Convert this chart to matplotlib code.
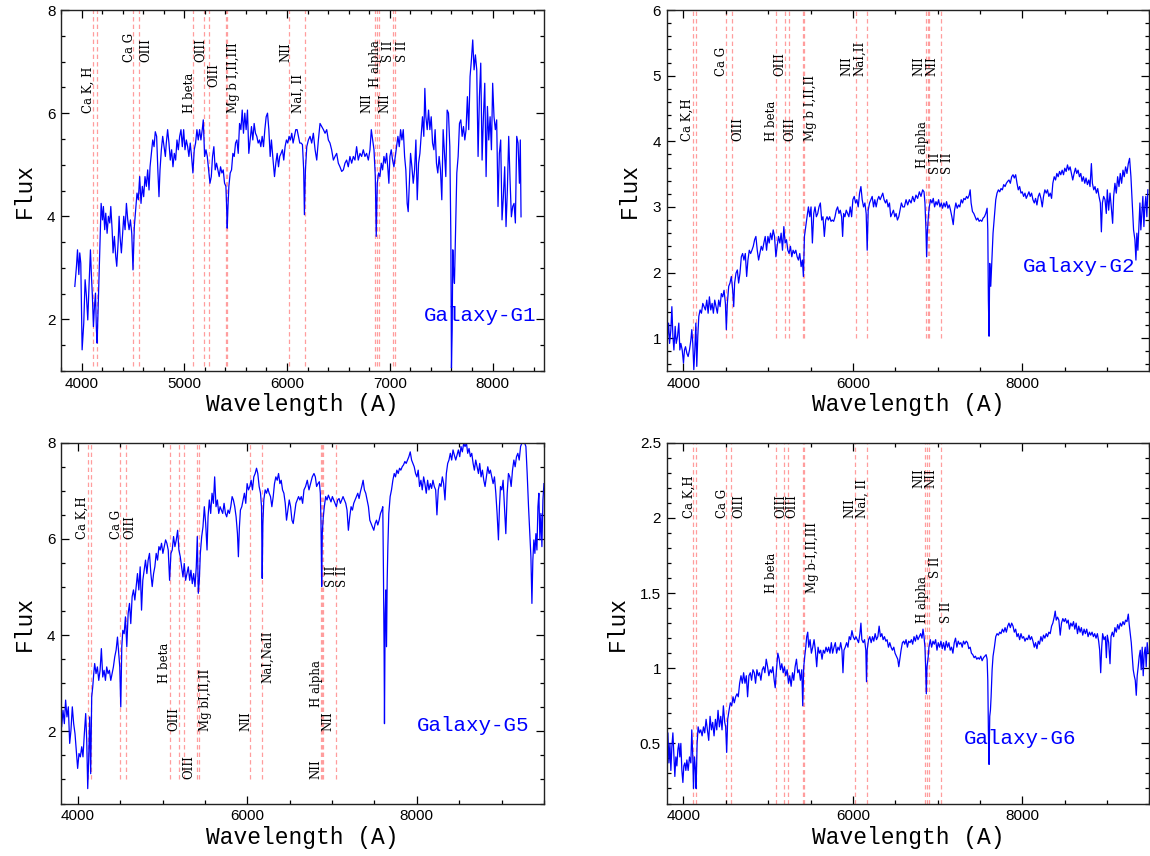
import numpy as np
import matplotlib
matplotlib.use("Agg")
import matplotlib.pyplot as plt
from matplotlib.ticker import MultipleLocator, FuncFormatter

plt.rcParams["font.family"] = ["Liberation Sans", "DejaVu Sans"]
MONO = ["Liberation Mono", "DejaVu Sans Mono"]
LABEL_FONT = ["DejaVu Serif"]

# spectra: (wavelength [A], flux)
G1_SPEC = [
    (3935, 2.64), (3951, 3.03), (3961, 3.35), (3974, 2.87), (3983, 3.29), (3993, 3.09), (4006, 1.41), (4022, 1.93),
    (4035, 2.77), (4048, 2.45), (4061, 1.99), (4074, 2.70), (4087, 3.35), (4097, 2.83), (4106, 2.45), (4116, 1.86),
    (4126, 2.25), (4136, 2.51), (4145, 1.80), (4152, 1.54), (4165, 2.45), (4178, 3.41), (4191, 4.25), (4204, 3.93),
    (4213, 4.19), (4226, 3.74), (4236, 4.06), (4249, 3.67), (4262, 4.00), (4275, 3.87), (4285, 4.19), (4298, 3.74),
    (4307, 3.29), (4320, 3.61), (4333, 3.22), (4343, 3.03), (4356, 3.48), (4366, 4.00), (4375, 3.61), (4388, 3.29),
    (4398, 3.61), (4411, 4.00), (4424, 3.74), (4437, 4.25), (4450, 3.93), (4463, 3.74), (4476, 3.93), (4489, 3.67),
    (4501, 2.96), (4514, 3.80), (4527, 4.13), (4540, 4.45), (4553, 4.32), (4566, 4.77), (4579, 4.25), (4592, 4.58),
    (4605, 4.38), (4618, 4.77), (4631, 4.58), (4644, 4.90), (4657, 4.51), (4667, 4.96), (4680, 5.22), (4693, 5.48),
    (4706, 5.35), (4718, 5.64), (4731, 5.55), (4744, 4.84), (4754, 4.38), (4764, 4.90), (4777, 5.29), (4790, 5.55),
    (4803, 5.35), (4816, 5.16), (4825, 5.42), (4838, 5.68), (4851, 5.42), (4864, 5.09), (4877, 5.29), (4890, 4.96),
    (4903, 5.22), (4916, 5.09), (4929, 5.48), (4942, 5.29), (4955, 5.55), (4968, 5.68), (4981, 5.35), (4994, 5.68),
    (5007, 5.29), (5020, 5.48), (5033, 5.35), (5045, 5.16), (5058, 5.42), (5071, 5.16), (5084, 4.84), (5097, 5.29),
    (5110, 5.42), (5123, 5.68), (5136, 5.48), (5149, 5.68), (5162, 5.48), (5175, 5.68), (5185, 5.87), (5198, 5.16),
    (5211, 5.29), (5224, 5.16), (5237, 4.90), (5250, 4.64), (5263, 4.77), (5275, 5.16), (5288, 5.35), (5301, 4.90),
    (5314, 5.03), (5327, 4.90), (5340, 4.77), (5353, 4.96), (5366, 4.84), (5379, 4.90), (5392, 4.64), (5405, 4.58),
    (5411, 4.25), (5418, 3.77), (5424, 4.13), (5434, 4.58), (5447, 4.84), (5460, 4.90), (5473, 5.22), (5486, 5.16),
    (5499, 5.42), (5512, 5.48), (5525, 5.22), (5538, 5.80), (5551, 5.68), (5564, 6.06), (5576, 5.61), (5589, 6.00),
    (5602, 5.68), (5615, 6.06), (5628, 5.22), (5641, 5.48), (5654, 5.74), (5667, 5.48), (5680, 5.80), (5693, 5.61),
    (5706, 5.55), (5719, 5.42), (5732, 5.48), (5745, 5.35), (5758, 5.55), (5771, 5.35), (5784, 5.68), (5797, 5.93),
    (5810, 6.00), (5823, 5.68), (5836, 5.16), (5848, 5.48), (5861, 5.16), (5878, 4.77), (5891, 5.03), (5904, 5.22),
    (5917, 4.96), (5929, 5.16), (5942, 5.22), (5955, 5.29), (5968, 5.09), (5981, 5.35), (5994, 5.48), (6007, 5.42),
    (6020, 5.55), (6033, 5.48), (6046, 5.61), (6059, 5.42), (6072, 5.55), (6085, 5.68), (6098, 5.68), (6111, 5.55),
    (6124, 5.42), (6137, 5.42), (6150, 5.39), (6162, 4.90), (6169, 4.03), (6179, 4.90), (6192, 5.35), (6208, 5.48),
    (6224, 5.55), (6240, 5.42), (6256, 5.61), (6273, 5.29), (6289, 5.09), (6305, 5.48), (6321, 5.80), (6337, 5.74),
    (6354, 5.68), (6370, 5.61), (6386, 5.68), (6402, 5.48), (6418, 5.42), (6434, 5.29), (6451, 5.09), (6467, 5.16),
    (6483, 5.22), (6499, 5.03), (6515, 4.96), (6532, 4.87), (6548, 4.90), (6564, 5.03), (6580, 5.09), (6596, 4.96),
    (6612, 5.16), (6629, 5.03), (6645, 5.16), (6661, 5.09), (6677, 5.35), (6693, 5.09), (6710, 5.22), (6726, 5.16),
    (6742, 5.29), (6758, 5.16), (6774, 5.22), (6791, 5.09), (6807, 5.29), (6820, 5.68), (6833, 5.48), (6846, 5.29),
    (6859, 4.77), (6868, 3.61), (6878, 4.64), (6891, 4.84), (6904, 4.77), (6917, 5.03), (6930, 4.90), (6943, 5.16),
    (6956, 5.03), (6969, 5.22), (6982, 4.90), (6991, 4.64), (7001, 5.16), (7014, 5.29), (7027, 5.09), (7040, 4.96),
    (7053, 5.16), (7066, 5.35), (7079, 5.55), (7092, 5.35), (7105, 5.68), (7118, 5.48), (7131, 5.68), (7144, 5.16),
    (7156, 4.90), (7169, 4.25), (7179, 4.09), (7189, 4.58), (7202, 5.22), (7215, 4.96), (7228, 4.64), (7241, 4.90),
    (7254, 5.48), (7267, 4.32), (7280, 5.03), (7293, 5.22), (7305, 5.55), (7318, 5.93), (7331, 5.55), (7341, 6.48),
    (7351, 5.93), (7364, 5.68), (7377, 6.06), (7390, 5.68), (7403, 5.93), (7416, 5.42), (7429, 5.29), (7441, 5.68),
    (7454, 5.03), (7467, 4.84), (7480, 5.16), (7493, 4.90), (7506, 4.32), (7519, 5.68), (7532, 5.22), (7545, 4.77),
    (7558, 6.06), (7571, 6.00), (7584, 5.35), (7594, 3.61), (7600, 1.06), (7607, 1.80), (7613, 3.35), (7620, 2.96),
    (7629, 2.70), (7639, 3.61), (7652, 4.84), (7665, 5.16), (7678, 5.80), (7691, 5.87), (7704, 5.55), (7717, 5.74),
    (7730, 5.48), (7742, 5.68), (7755, 6.32), (7768, 5.68), (7781, 6.71), (7794, 7.03), (7807, 7.42), (7820, 6.84),
    (7833, 7.13), (7846, 6.84), (7859, 5.16), (7872, 6.32), (7885, 6.97), (7898, 5.09), (7911, 5.93), (7924, 6.58),
    (7937, 4.77), (7950, 6.13), (7963, 5.48), (7976, 5.93), (7989, 5.29), (8001, 6.58), (8014, 5.93), (8027, 5.68),
    (8040, 5.87), (8053, 4.19), (8066, 5.22), (8079, 5.48), (8092, 3.93), (8105, 4.38), (8118, 4.96), (8131, 3.80),
    (8144, 4.51), (8157, 5.55), (8170, 4.71), (8183, 3.99), (8196, 4.19), (8209, 4.25), (8222, 3.87), (8235, 5.55),
    (8248, 5.42), (8261, 4.64), (8270, 5.48), (8277, 3.99),
]

G2_SPEC = [
    (3804, 0.62), (3812, 1.03), (3824, 1.23), (3836, 0.92), (3851, 1.13), (3863, 1.48), (3875, 1.03), (3887, 0.82),
    (3902, 1.18), (3914, 0.92), (3930, 1.03), (3945, 1.23), (3957, 0.82), (3969, 0.92), (3985, 0.82), (4000, 0.62),
    (4012, 0.82), (4024, 0.87), (4040, 0.77), (4055, 0.72), (4071, 0.82), (4087, 0.97), (4098, 1.13), (4110, 0.92),
    (4122, 0.52), (4134, 0.82), (4146, 1.23), (4157, 0.57), (4169, 1.03), (4181, 1.33), (4196, 1.43), (4212, 1.38),
    (4228, 1.53), (4243, 1.48), (4259, 1.43), (4275, 1.58), (4291, 1.38), (4306, 1.63), (4322, 1.43), (4338, 1.53),
    (4353, 1.38), (4369, 1.58), (4385, 1.48), (4400, 1.38), (4416, 1.58), (4432, 1.48), (4447, 1.68), (4463, 1.63),
    (4479, 1.73), (4495, 1.53), (4506, 1.13), (4518, 1.53), (4534, 1.79), (4549, 1.84), (4565, 1.94), (4581, 1.73),
    (4593, 1.48), (4604, 1.84), (4620, 1.99), (4636, 2.04), (4651, 1.84), (4667, 1.99), (4683, 2.24), (4698, 2.29),
    (4714, 2.19), (4730, 2.29), (4746, 1.94), (4761, 2.19), (4777, 2.34), (4793, 2.29), (4808, 2.34), (4824, 2.40),
    (4840, 2.50), (4855, 2.55), (4871, 2.34), (4887, 2.19), (4902, 2.29), (4918, 2.40), (4934, 2.34), (4949, 2.45),
    (4965, 2.55), (4981, 2.34), (4997, 2.55), (5012, 2.45), (5028, 2.60), (5044, 2.50), (5059, 2.65), (5075, 2.55),
    (5091, 2.24), (5106, 2.40), (5122, 2.55), (5138, 2.45), (5153, 2.60), (5169, 2.34), (5185, 2.70), (5200, 2.45),
    (5216, 2.50), (5232, 2.34), (5247, 2.29), (5263, 2.40), (5279, 2.24), (5294, 2.34), (5310, 2.29), (5326, 2.34),
    (5342, 2.24), (5357, 2.19), (5373, 2.29), (5389, 2.09), (5404, 2.19), (5416, 1.94), (5428, 2.55), (5443, 2.70),
    (5459, 2.85), (5475, 3.00), (5491, 2.85), (5506, 3.00), (5522, 2.45), (5538, 2.90), (5553, 3.00), (5569, 2.85),
    (5585, 2.90), (5600, 3.00), (5616, 3.06), (5632, 2.80), (5647, 2.85), (5663, 2.55), (5679, 2.80), (5695, 2.85),
    (5710, 2.80), (5726, 2.85), (5742, 2.78), (5757, 2.80), (5773, 2.78), (5789, 2.85), (5804, 2.95), (5820, 3.00),
    (5836, 2.90), (5851, 2.95), (5867, 2.85), (5879, 2.55), (5891, 2.90), (5906, 2.85), (5922, 2.95), (5938, 2.90),
    (5953, 2.85), (5969, 3.00), (5985, 2.85), (6000, 3.11), (6016, 3.16), (6032, 3.06), (6047, 3.11), (6063, 3.00),
    (6079, 3.21), (6095, 3.31), (6110, 3.11), (6126, 3.00), (6142, 3.06), (6157, 2.90), (6169, 2.34), (6181, 2.95),
    (6197, 3.06), (6212, 3.11), (6228, 3.16), (6244, 3.00), (6259, 3.11), (6275, 3.00), (6291, 3.11), (6306, 3.16),
    (6322, 3.11), (6338, 3.16), (6353, 3.21), (6369, 3.11), (6385, 3.06), (6400, 3.11), (6416, 3.00), (6432, 3.06),
    (6447, 2.85), (6463, 2.90), (6479, 2.95), (6495, 2.85), (6510, 2.90), (6526, 2.80), (6542, 2.85), (6557, 2.95),
    (6573, 3.06), (6589, 3.00), (6608, 3.00), (6628, 3.11), (6647, 3.03), (6667, 3.11), (6687, 3.06), (6706, 3.16),
    (6726, 3.08), (6745, 3.18), (6765, 3.13), (6785, 3.23), (6804, 3.16), (6824, 3.26), (6840, 3.23), (6851, 3.06),
    (6863, 2.65), (6871, 2.24), (6879, 2.60), (6891, 2.85), (6902, 3.00), (6918, 3.11), (6934, 3.06), (6949, 3.13),
    (6965, 3.00), (6981, 3.08), (6996, 3.03), (7012, 3.11), (7028, 3.00), (7044, 3.06), (7059, 2.98), (7075, 3.06),
    (7091, 3.00), (7106, 3.08), (7122, 2.98), (7138, 3.03), (7153, 2.95), (7169, 2.85), (7185, 2.73), (7200, 2.95),
    (7216, 3.06), (7232, 2.98), (7248, 3.03), (7263, 3.00), (7279, 3.11), (7295, 3.06), (7310, 3.13), (7326, 3.11),
    (7342, 3.16), (7357, 3.13), (7373, 3.18), (7385, 3.26), (7396, 3.06), (7412, 2.93), (7428, 2.90), (7444, 2.85),
    (7459, 2.80), (7475, 2.83), (7491, 2.78), (7506, 2.80), (7522, 2.78), (7538, 2.83), (7553, 2.85), (7569, 2.90),
    (7585, 2.98), (7593, 2.65), (7600, 1.58), (7608, 1.03), (7616, 2.14), (7628, 1.79), (7640, 2.14), (7655, 2.60),
    (7671, 2.85), (7687, 3.11), (7702, 3.21), (7718, 3.26), (7734, 3.23), (7749, 3.28), (7765, 3.26), (7781, 3.34),
    (7797, 3.31), (7812, 3.36), (7828, 3.39), (7843, 3.41), (7859, 3.36), (7875, 3.46), (7891, 3.49), (7906, 3.44),
    (7922, 3.49), (7938, 3.36), (7953, 3.26), (7969, 3.31), (7985, 3.21), (8000, 3.23), (8016, 3.16), (8032, 3.21),
    (8047, 3.13), (8063, 3.18), (8079, 3.23), (8094, 3.16), (8110, 3.21), (8126, 3.11), (8142, 3.06), (8157, 3.13),
    (8173, 3.03), (8189, 3.16), (8204, 3.21), (8220, 3.13), (8236, 3.00), (8251, 3.16), (8267, 3.26), (8283, 3.21),
    (8298, 3.26), (8314, 3.16), (8330, 3.21), (8346, 3.13), (8361, 3.36), (8377, 3.46), (8393, 3.41), (8408, 3.51),
    (8424, 3.46), (8440, 3.54), (8455, 3.49), (8471, 3.56), (8487, 3.49), (8502, 3.59), (8518, 3.54), (8534, 3.64),
    (8549, 3.56), (8565, 3.61), (8581, 3.51), (8596, 3.41), (8612, 3.51), (8628, 3.59), (8643, 3.51), (8659, 3.56),
    (8675, 3.46), (8691, 3.51), (8706, 3.39), (8722, 3.46), (8738, 3.36), (8753, 3.44), (8769, 3.34), (8785, 3.41),
    (8800, 3.31), (8816, 3.66), (8828, 3.36), (8844, 3.26), (8859, 3.31), (8875, 3.21), (8891, 3.28), (8906, 3.16),
    (8922, 3.06), (8934, 2.62), (8946, 3.06), (8961, 3.16), (8977, 3.11), (8992, 2.90), (9004, 3.26), (9020, 2.95),
    (9036, 3.21), (9051, 3.00), (9067, 2.75), (9079, 3.16), (9094, 3.36), (9110, 3.21), (9126, 3.46), (9142, 3.31),
    (9157, 3.51), (9173, 3.36), (9189, 3.56), (9204, 3.46), (9220, 3.61), (9236, 3.51), (9252, 3.66), (9267, 3.74),
    (9283, 3.46), (9298, 3.06), (9314, 2.65), (9330, 2.50), (9342, 2.19), (9353, 2.60), (9365, 2.34), (9377, 2.70),
    (9389, 3.06), (9400, 2.65), (9412, 2.90), (9424, 3.16), (9436, 2.70), (9447, 3.00), (9459, 3.16), (9471, 2.85),
    (9483, 3.26),
]

G5_SPEC = [
    (3788, 2.30), (3808, 2.09), (3824, 2.44), (3840, 2.16), (3855, 2.65), (3871, 2.30), (3887, 2.51), (3903, 1.75),
    (3918, 2.02), (3934, 2.51), (3950, 2.16), (3966, 1.95), (3981, 1.61), (3997, 1.23), (4013, 1.54), (4029, 1.47),
    (4045, 1.68), (4060, 1.47), (4076, 1.95), (4092, 2.37), (4104, 1.82), (4116, 0.81), (4127, 1.40), (4139, 2.30),
    (4151, 1.12), (4163, 2.72), (4175, 2.92), (4187, 3.20), (4198, 3.41), (4214, 3.20), (4230, 3.34), (4246, 3.06),
    (4262, 3.27), (4277, 3.72), (4293, 3.13), (4309, 3.27), (4325, 3.06), (4340, 3.34), (4356, 3.20), (4372, 3.27),
    (4388, 3.06), (4403, 3.20), (4419, 3.34), (4435, 3.55), (4451, 3.69), (4467, 3.96), (4482, 3.62), (4494, 3.34),
    (4506, 2.51), (4518, 3.76), (4530, 4.10), (4546, 4.03), (4561, 4.38), (4577, 3.76), (4593, 4.45), (4609, 4.66),
    (4624, 4.24), (4640, 4.80), (4656, 4.94), (4672, 4.73), (4688, 5.01), (4703, 5.28), (4719, 4.94), (4735, 5.42),
    (4751, 4.52), (4766, 5.14), (4782, 5.35), (4798, 5.56), (4814, 5.28), (4829, 5.56), (4845, 5.70), (4861, 5.28),
    (4877, 5.01), (4893, 5.28), (4908, 5.42), (4924, 5.70), (4940, 5.56), (4956, 5.84), (4971, 5.77), (4987, 5.91),
    (5003, 5.70), (5019, 5.84), (5035, 5.98), (5050, 5.91), (5066, 5.77), (5082, 5.14), (5098, 5.70), (5113, 5.77),
    (5129, 6.05), (5145, 5.84), (5161, 5.98), (5177, 6.18), (5192, 5.77), (5208, 5.63), (5224, 5.42), (5240, 5.21),
    (5255, 5.49), (5271, 5.14), (5287, 5.28), (5303, 5.42), (5319, 5.14), (5334, 5.35), (5350, 5.07), (5366, 5.28),
    (5382, 5.01), (5397, 5.42), (5409, 6.05), (5421, 4.87), (5433, 5.14), (5445, 5.70), (5461, 6.05), (5476, 6.25),
    (5492, 6.67), (5508, 6.32), (5524, 5.77), (5536, 6.46), (5551, 6.81), (5567, 6.53), (5583, 6.95), (5599, 6.74),
    (5614, 7.29), (5630, 6.67), (5646, 6.81), (5662, 6.53), (5678, 6.67), (5693, 6.60), (5709, 6.53), (5725, 6.74),
    (5741, 6.53), (5756, 6.46), (5772, 6.60), (5788, 6.53), (5804, 6.67), (5820, 6.88), (5835, 6.81), (5851, 6.67),
    (5867, 6.46), (5883, 6.11), (5894, 5.63), (5906, 6.25), (5918, 6.60), (5934, 6.67), (5950, 6.81), (5965, 6.95),
    (5981, 6.74), (5997, 7.15), (6013, 7.02), (6029, 7.09), (6044, 7.22), (6060, 7.02), (6076, 7.29), (6092, 7.36),
    (6108, 7.47), (6123, 7.36), (6139, 7.09), (6155, 6.95), (6167, 6.67), (6175, 5.18), (6183, 6.32), (6194, 6.81),
    (6210, 7.02), (6226, 6.95), (6242, 7.05), (6257, 6.95), (6273, 6.88), (6289, 6.67), (6305, 6.88), (6320, 7.15),
    (6336, 7.29), (6352, 7.22), (6368, 7.36), (6384, 7.15), (6399, 7.22), (6415, 7.02), (6431, 6.95), (6447, 6.74),
    (6462, 6.39), (6478, 6.60), (6494, 6.81), (6510, 6.67), (6526, 6.39), (6541, 6.32), (6557, 6.53), (6573, 6.74),
    (6589, 6.81), (6604, 6.88), (6620, 6.81), (6636, 6.88), (6652, 6.74), (6668, 7.02), (6687, 7.09), (6707, 7.22),
    (6727, 7.02), (6746, 7.15), (6766, 7.29), (6786, 7.36), (6802, 7.29), (6817, 7.09), (6833, 7.15), (6849, 7.19),
    (6861, 6.95), (6869, 6.32), (6877, 5.01), (6884, 6.11), (6896, 6.46), (6908, 6.67), (6924, 6.88), (6940, 6.81),
    (6956, 6.91), (6971, 6.84), (6987, 6.77), (7003, 6.88), (7019, 6.81), (7034, 6.74), (7050, 6.67), (7066, 6.81),
    (7082, 6.84), (7098, 6.74), (7113, 6.81), (7129, 6.88), (7145, 6.81), (7161, 6.74), (7176, 6.60), (7192, 6.18),
    (7208, 6.46), (7224, 6.67), (7240, 6.60), (7255, 6.74), (7271, 6.81), (7287, 6.88), (7303, 6.95), (7318, 6.84),
    (7334, 6.98), (7350, 7.09), (7366, 7.22), (7381, 7.02), (7397, 6.95), (7413, 6.81), (7429, 6.67), (7445, 6.39),
    (7460, 6.32), (7476, 6.25), (7492, 6.18), (7508, 6.32), (7524, 6.39), (7539, 6.29), (7555, 6.39), (7571, 6.53),
    (7587, 6.60), (7598, 6.67), (7606, 5.28), (7614, 3.55), (7618, 2.16), (7626, 4.45), (7634, 4.94), (7642, 3.76),
    (7650, 5.14), (7658, 5.84), (7669, 6.53), (7685, 6.88), (7701, 7.02), (7717, 7.22), (7733, 7.36), (7748, 7.29),
    (7764, 7.43), (7780, 7.36), (7796, 7.47), (7811, 7.43), (7827, 7.50), (7843, 7.54), (7859, 7.61), (7874, 7.57),
    (7890, 7.64), (7906, 7.71), (7922, 7.81), (7938, 7.64), (7953, 7.57), (7969, 7.50), (7985, 7.36), (8001, 7.29),
    (8016, 7.43), (8032, 7.09), (8048, 7.22), (8064, 7.02), (8080, 7.29), (8095, 7.15), (8111, 6.95), (8127, 7.22),
    (8143, 7.02), (8159, 7.15), (8174, 7.05), (8190, 7.22), (8206, 7.09), (8222, 7.02), (8237, 6.50), (8253, 7.02),
    (8269, 7.15), (8285, 7.09), (8301, 7.29), (8316, 7.15), (8332, 6.81), (8348, 7.36), (8364, 7.57), (8379, 7.64),
    (8395, 7.78), (8411, 7.64), (8427, 7.85), (8443, 7.74), (8459, 7.64), (8474, 7.74), (8490, 7.85), (8506, 7.71),
    (8521, 7.92), (8537, 7.81), (8553, 7.99), (8569, 7.92), (8585, 8.00), (8600, 7.78), (8616, 7.88), (8632, 7.71),
    (8648, 7.78), (8664, 7.57), (8679, 7.43), (8695, 7.64), (8711, 7.50), (8727, 7.36), (8742, 7.57), (8758, 7.29),
    (8774, 7.43), (8790, 7.22), (8805, 7.09), (8821, 7.29), (8837, 7.50), (8853, 7.36), (8868, 7.43), (8884, 7.29),
    (8900, 7.15), (8916, 7.29), (8932, 6.95), (8947, 6.53), (8963, 5.98), (8975, 6.67), (8987, 7.09), (9003, 7.02),
    (9018, 7.22), (9034, 6.67), (9050, 6.11), (9066, 6.95), (9081, 7.36), (9097, 7.29), (9113, 7.09), (9129, 7.43),
    (9145, 7.64), (9160, 7.50), (9176, 7.71), (9192, 7.78), (9208, 7.64), (9224, 7.92), (9239, 7.99), (9255, 8.00),
    (9271, 8.00), (9287, 7.92), (9302, 7.36), (9318, 6.67), (9334, 6.05), (9346, 5.63), (9358, 4.66), (9369, 5.56),
    (9381, 5.98), (9393, 5.70), (9405, 6.11), (9417, 5.77), (9429, 6.67), (9440, 6.95), (9452, 5.98), (9464, 6.53),
    (9476, 5.84), (9488, 6.81), (9500, 7.15),
]

G6_SPEC = [
    (3804, 0.41), (3816, 0.57), (3828, 0.37), (3840, 0.50), (3851, 0.32), (3863, 0.48), (3875, 0.57), (3887, 0.41),
    (3898, 0.28), (3910, 0.41), (3922, 0.35), (3934, 0.46), (3945, 0.50), (3957, 0.41), (3969, 0.50), (3981, 0.32),
    (3993, 0.24), (4004, 0.35), (4016, 0.37), (4028, 0.32), (4040, 0.39), (4055, 0.32), (4071, 0.41), (4087, 0.37),
    (4098, 0.59), (4110, 0.41), (4118, 0.20), (4130, 0.41), (4142, 0.32), (4149, 0.20), (4161, 0.50), (4173, 0.61),
    (4189, 0.57), (4204, 0.59), (4220, 0.55), (4236, 0.61), (4251, 0.57), (4267, 0.66), (4283, 0.59), (4298, 0.52),
    (4314, 0.68), (4330, 0.59), (4345, 0.64), (4361, 0.55), (4377, 0.66), (4393, 0.59), (4408, 0.72), (4424, 0.61),
    (4440, 0.68), (4455, 0.59), (4471, 0.75), (4487, 0.64), (4498, 0.61), (4510, 0.44), (4522, 0.66), (4538, 0.72),
    (4553, 0.77), (4569, 0.75), (4585, 0.81), (4600, 0.77), (4616, 0.81), (4632, 0.83), (4647, 0.81), (4663, 0.90),
    (4679, 0.95), (4695, 0.90), (4710, 0.97), (4726, 0.90), (4742, 0.95), (4757, 0.81), (4773, 0.95), (4789, 0.97),
    (4804, 0.92), (4820, 0.99), (4836, 0.97), (4851, 0.90), (4867, 0.99), (4883, 0.95), (4898, 0.97), (4914, 0.92),
    (4930, 0.99), (4946, 1.01), (4961, 0.97), (4977, 1.06), (4993, 1.01), (5008, 0.95), (5024, 0.99), (5040, 0.97),
    (5055, 1.01), (5071, 0.92), (5083, 0.87), (5098, 0.99), (5114, 1.10), (5130, 1.06), (5145, 0.99), (5161, 1.03),
    (5177, 0.97), (5192, 1.01), (5208, 0.95), (5224, 0.99), (5240, 0.90), (5255, 0.95), (5271, 0.88), (5287, 0.97),
    (5302, 0.92), (5318, 1.01), (5334, 1.06), (5349, 0.97), (5365, 0.99), (5381, 0.92), (5397, 0.99), (5408, 0.75),
    (5420, 1.01), (5432, 1.08), (5444, 1.14), (5455, 1.21), (5467, 1.24), (5479, 1.14), (5495, 1.19), (5510, 1.10),
    (5526, 1.14), (5542, 1.19), (5557, 1.12), (5573, 1.01), (5589, 1.14), (5604, 1.10), (5620, 1.12), (5636, 1.06),
    (5651, 1.12), (5667, 1.10), (5683, 1.14), (5699, 1.11), (5714, 1.14), (5730, 1.10), (5746, 1.17), (5761, 1.10),
    (5777, 1.14), (5793, 1.17), (5808, 1.10), (5824, 1.14), (5840, 1.12), (5856, 1.17), (5871, 1.12), (5883, 0.97),
    (5895, 1.12), (5910, 1.14), (5926, 1.17), (5942, 1.14), (5957, 1.21), (5973, 1.19), (5989, 1.25), (6004, 1.21),
    (6020, 1.19), (6036, 1.21), (6051, 1.19), (6067, 1.17), (6083, 1.23), (6095, 1.30), (6106, 1.19), (6122, 1.17),
    (6138, 1.19), (6153, 1.12), (6161, 0.91), (6169, 1.12), (6185, 1.19), (6200, 1.21), (6216, 1.17), (6232, 1.21),
    (6247, 1.18), (6263, 1.23), (6279, 1.19), (6295, 1.21), (6310, 1.28), (6326, 1.21), (6342, 1.23), (6357, 1.19),
    (6373, 1.21), (6389, 1.18), (6404, 1.19), (6420, 1.14), (6436, 1.17), (6451, 1.14), (6467, 1.12), (6483, 1.14),
    (6498, 1.10), (6514, 1.08), (6530, 1.06), (6542, 1.01), (6554, 1.06), (6569, 1.12), (6585, 1.17), (6600, 1.18),
    (6612, 1.16), (6628, 1.19), (6644, 1.14), (6659, 1.18), (6675, 1.17), (6691, 1.19), (6706, 1.16), (6722, 1.21),
    (6738, 1.18), (6753, 1.22), (6769, 1.19), (6785, 1.21), (6800, 1.23), (6816, 1.20), (6828, 1.26), (6840, 1.21),
    (6851, 1.14), (6859, 1.01), (6867, 0.83), (6875, 1.01), (6887, 1.06), (6898, 1.14), (6914, 1.19), (6930, 1.14),
    (6946, 1.18), (6961, 1.16), (6977, 1.19), (6993, 1.12), (7008, 1.17), (7024, 1.14), (7040, 1.18), (7055, 1.13),
    (7071, 1.17), (7087, 1.12), (7102, 1.18), (7118, 1.14), (7134, 1.17), (7149, 1.12), (7165, 1.14), (7181, 1.10),
    (7197, 1.17), (7212, 1.20), (7228, 1.14), (7244, 1.18), (7259, 1.16), (7275, 1.17), (7291, 1.14), (7306, 1.18),
    (7322, 1.16), (7338, 1.18), (7353, 1.17), (7369, 1.13), (7385, 1.14), (7400, 1.10), (7416, 1.09), (7432, 1.07),
    (7447, 1.08), (7463, 1.06), (7479, 1.07), (7494, 1.06), (7510, 1.08), (7526, 1.05), (7542, 1.07), (7557, 1.08),
    (7573, 1.09), (7585, 1.06), (7593, 0.92), (7600, 0.59), (7608, 0.36), (7616, 0.68), (7624, 0.72), (7632, 0.81),
    (7644, 0.99), (7655, 1.08), (7671, 1.14), (7687, 1.21), (7702, 1.23), (7718, 1.22), (7734, 1.24), (7749, 1.23),
    (7765, 1.26), (7781, 1.24), (7797, 1.27), (7812, 1.24), (7828, 1.28), (7843, 1.30), (7859, 1.27), (7875, 1.30),
    (7891, 1.28), (7906, 1.24), (7922, 1.26), (7938, 1.21), (7953, 1.23), (7969, 1.19), (7985, 1.23), (8000, 1.20),
    (8016, 1.21), (8032, 1.18), (8047, 1.20), (8063, 1.19), (8079, 1.22), (8094, 1.19), (8110, 1.21), (8126, 1.18),
    (8142, 1.14), (8157, 1.17), (8173, 1.13), (8189, 1.18), (8204, 1.16), (8220, 1.21), (8236, 1.18), (8251, 1.22),
    (8267, 1.20), (8283, 1.23), (8298, 1.21), (8314, 1.24), (8330, 1.23), (8346, 1.28), (8361, 1.30), (8377, 1.34),
    (8389, 1.38), (8401, 1.32), (8416, 1.34), (8432, 1.32), (8448, 1.22), (8463, 1.30), (8479, 1.33), (8495, 1.31),
    (8510, 1.33), (8526, 1.30), (8542, 1.32), (8557, 1.26), (8573, 1.30), (8589, 1.28), (8605, 1.31), (8620, 1.26),
    (8636, 1.30), (8652, 1.23), (8667, 1.28), (8683, 1.24), (8698, 1.27), (8714, 1.22), (8730, 1.26), (8745, 1.23),
    (8761, 1.26), (8777, 1.21), (8793, 1.24), (8808, 1.22), (8824, 1.24), (8840, 1.21), (8855, 1.23), (8871, 1.20),
    (8887, 1.23), (8902, 1.18), (8914, 1.12), (8926, 0.97), (8938, 1.14), (8949, 1.23), (8965, 1.19), (8981, 1.21),
    (8993, 1.07), (9004, 1.22), (9020, 1.17), (9036, 1.03), (9048, 1.21), (9063, 1.24), (9079, 1.21), (9094, 1.27),
    (9110, 1.24), (9126, 1.29), (9142, 1.26), (9157, 1.30), (9173, 1.28), (9189, 1.31), (9205, 1.29), (9220, 1.32),
    (9236, 1.31), (9252, 1.36), (9263, 1.29), (9275, 1.23), (9287, 1.17), (9298, 1.08), (9310, 0.99), (9322, 0.95),
    (9334, 0.92), (9346, 0.82), (9357, 0.95), (9369, 1.01), (9381, 1.08), (9393, 1.12), (9404, 0.99), (9416, 1.14),
    (9428, 0.95), (9440, 1.10), (9452, 1.14), (9463, 1.01), (9475, 1.17), (9487, 1.10),
]

# redshifted line positions (A)
G1_LINES = [4113, 4155, 4502, 4560, 5088, 5188, 5240, 5408, 5418, 6023, 6172, 6859, 6875, 6891, 7030, 7050]
G2_LINES = [4118, 4149, 4506, 4573, 5095, 5193, 5248, 5412, 5428, 6036, 6169, 6863, 6883, 6902, 7040]
G5_LINES = [4116, 4151, 4502, 4565, 5082, 5188, 5248, 5409, 5425, 6029, 6175, 6866, 6881, 6896, 7050]
G6_LINES = [4118, 4149, 4506, 4565, 5091, 5189, 5236, 5412, 5424, 6020, 6165, 6855, 6875, 6895, 7036]

# line identifications: (text, wavelength, flux)
G1_LABELS = [("Ca K, H", 4064, 6.0), ("Ca G", 4469, 7.0), ("OIII", 4625, 7.0), ("H beta", 5052, 6.0),
             ("OIII", 5165, 7.0), ("OIII", 5288, 6.5), ("Mg b I,II,III", 5483, 6.0), ("NII", 5991, 7.0),
             ("NaI, II", 6114, 6.0), ("NII", 6778, 6.0), ("H alpha", 6859, 6.5), ("NII", 6952, 6.0),
             ("S II", 6988, 7.0), ("S II", 7124, 7.0)]
G2_LABELS = [("Ca K,H", 4048, 4.0), ("Ca G", 4449, 5.0), ("OIII", 4645, 4.0), ("H beta", 5037, 4.0),
             ("OIII", 5137, 5.0), ("OIII", 5255, 4.0), ("Mg b I,II,II", 5503, 4.0), ("NII", 5935, 5.0),
             ("NaI,II", 6085, 5.0), ("NII", 6785, 5.0), ("NII", 6930, 5.0), ("H alpha", 6824, 3.6),
             ("S II", 6976, 3.5), ("S II", 7115, 3.5)]
G5_LABELS = [("Ca K,H", 4051, 6.0), ("Ca G", 4451, 6.0), ("OIII", 4619, 6.0), ("H beta", 5027, 3.0),
             ("OIII", 5137, 2.0), ("OIII", 5314, 1.0), ("Mg bI,II,II", 5503, 2.0), ("NII", 5979, 2.0),
             ("NaI,NaII", 6240, 3.0), ("H alpha", 6821, 2.5), ("NII", 6808, 1.0), ("NII", 6947, 2.0),
             ("S II", 6989, 5.0), ("S II", 7124, 5.0)]
G6_LABELS = [("Ca K,H", 4065, 2.0), ("Ca G", 4457, 2.0), ("OIII", 4652, 2.0), ("H beta", 5043, 1.5),
             ("OIII", 5152, 2.0), ("OIII", 5283, 2.0), ("Mg b-I,II,III", 5522, 1.5), ("NII", 5965, 2.0),
             ("NaI, II", 6109, 2.0), ("NII", 6785, 2.2), ("NII", 6925, 2.2), ("H alpha", 6826, 1.3),
             ("S II", 6978, 1.6), ("S II", 7109, 1.3)]

NAMES = ["Galaxy-G1", "Galaxy-G2", "Galaxy-G5", "Galaxy-G6"]


def fmt(v, pos):
    return "%g" % v


def draw_panel(ax, spec, lines, span, labels, name, name_xy, xlim, ylim, xt, yt):
    ax.vlines(lines, span[0], span[1], colors="#ff9d9d", linewidth=0.9,
              linestyles=[(0, (3.5, 2.5))], zorder=1)
    w, f = np.array(spec).T
    ax.plot(w, f, color="#0000ff", lw=0.9, zorder=2)
    for txt, x, y in labels:
        ax.text(x, y, txt, rotation=90, ha="center", va="bottom",
                fontsize=8.5, family=LABEL_FONT, zorder=3)
    ax.text(name_xy[0], name_xy[1], name, color="#0000ff", fontsize=15,
            family=MONO, ha="center", va="center", zorder=3)
    ax.set_xlim(*xlim)
    ax.set_ylim(*ylim)
    ax.xaxis.set_major_locator(MultipleLocator(xt[0]))
    ax.xaxis.set_minor_locator(MultipleLocator(xt[1]))
    ax.yaxis.set_major_locator(MultipleLocator(yt[0]))
    ax.yaxis.set_minor_locator(MultipleLocator(yt[1]))
    ax.yaxis.set_major_formatter(FuncFormatter(fmt))
    ax.tick_params(which="both", direction="in", top=True, right=True,
                   labelsize=11, width=0.9, pad=4)
    ax.tick_params(which="major", length=6)
    ax.tick_params(which="minor", length=3)
    for s in ax.spines.values():
        s.set_linewidth(1.0)
        s.set_color("#222222")
    ax.set_xlabel("Wavelength (A)", fontsize=16.5, family=MONO, labelpad=2)
    ax.set_ylabel("Flux", fontsize=16.5, family=MONO, labelpad=8)


fig = plt.figure(figsize=(11.5, 8.56), dpi=100)
ax1 = fig.add_axes([0.0530, 0.5666, 0.4200, 0.4217])
ax2 = fig.add_axes([0.5796, 0.5666, 0.4198, 0.4217])
ax5 = fig.add_axes([0.0530, 0.0613, 0.4200, 0.4215])
ax6 = fig.add_axes([0.5796, 0.0613, 0.4198, 0.4215])

draw_panel(ax1, G1_SPEC, G1_LINES, (1.1, 8.0), G1_LABELS, NAMES[0], (7880, 2.07),
           (3800, 8500), (1.0, 8.0), (1000, 200), (2, 0.5))
draw_panel(ax2, G2_SPEC, G2_LINES, (1.0, 6.0), G2_LABELS, NAMES[1], (8667, 2.09),
           (3800, 9500), (0.5, 6.0), (2000, 500), (1, 0.2))
draw_panel(ax5, G5_SPEC, G5_LINES, (1.0, 8.0), G5_LABELS, NAMES[2], (8669, 2.12),
           (3800, 9500), (0.5, 8.0), (2000, 500), (2, 0.5))
draw_panel(ax6, G6_SPEC, G6_LINES, (0.1, 2.5), G6_LABELS, NAMES[3], (7970, 0.535),
           (3800, 9500), (0.1, 2.5), (2000, 500), (0.5, 0.1))

fig.savefig("out.png", dpi=100)
